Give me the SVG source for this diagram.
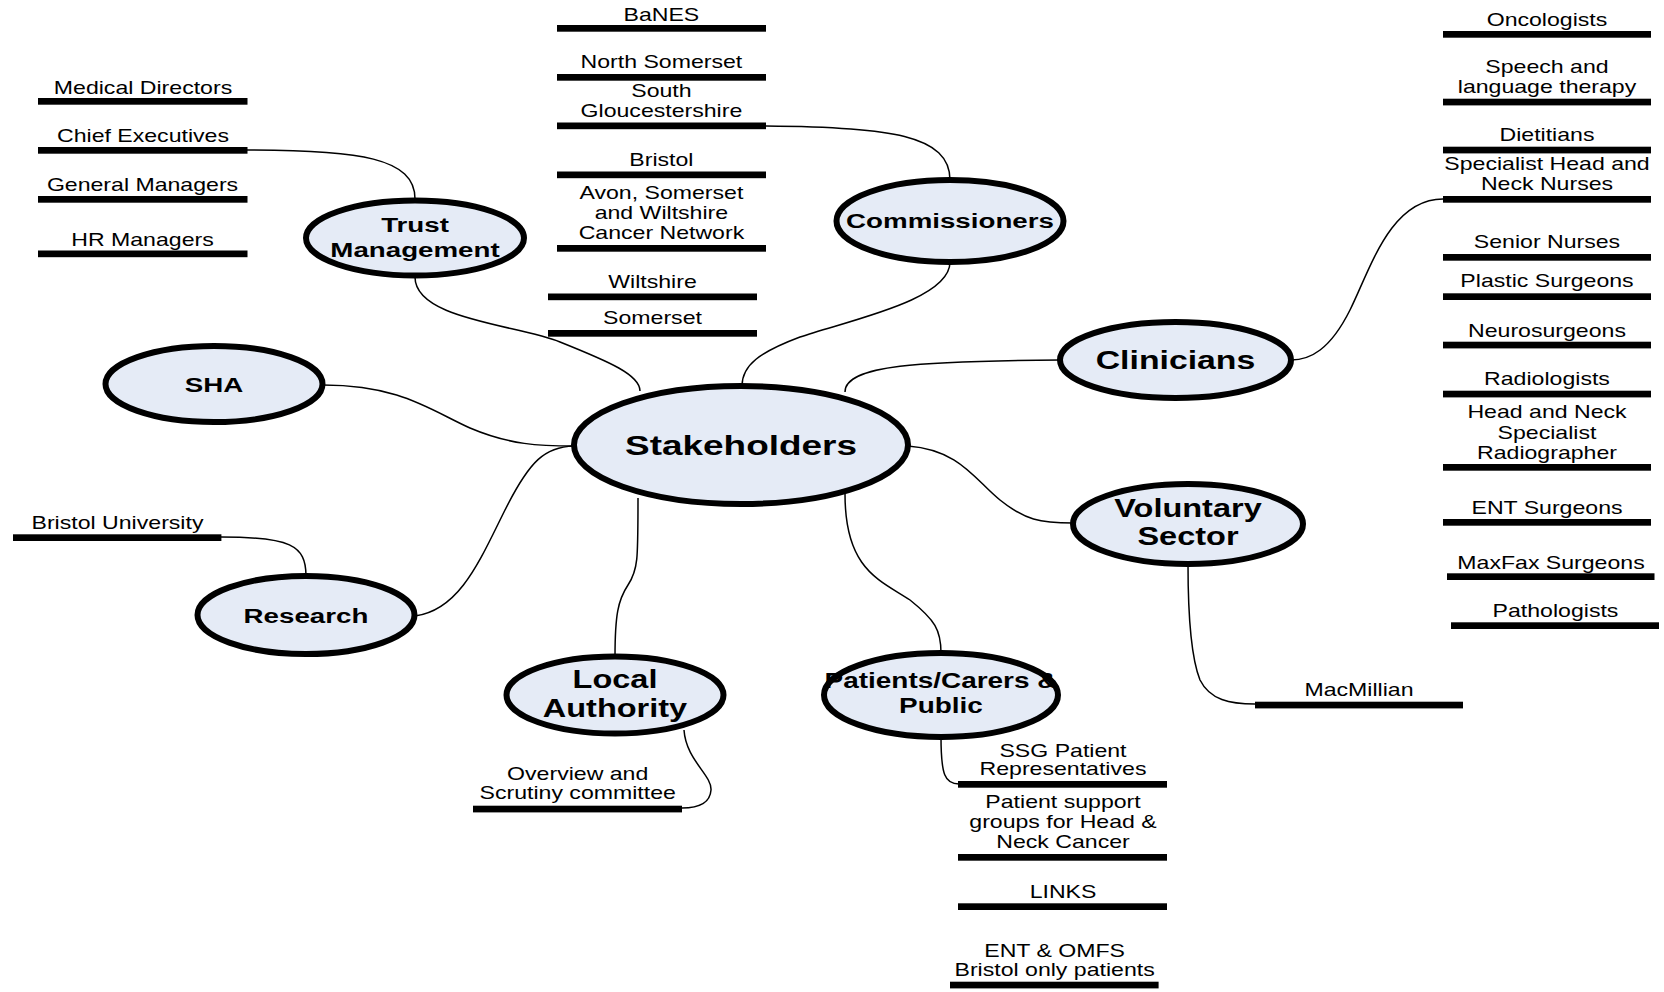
<svg xmlns="http://www.w3.org/2000/svg" width="1664" height="992" viewBox="0 0 1664 992">
<style>
.bg{fill:#ffffff}
.con{fill:none;stroke:#000;stroke-width:1.5}
.fill{fill:#e5ebf6;stroke:none}
.ring{fill:none;stroke:#000;stroke-width:6}
.bar{fill:#000}
.lt{font-family:"Liberation Sans",Arial,sans-serif;font-size:17.5px;fill:#000;text-anchor:middle}
.nt{font-family:"Liberation Sans",Arial,sans-serif;font-weight:bold;fill:#000;text-anchor:middle}
</style>
<rect class="bg" x="0" y="0" width="1664" height="992"/>
<g id="connectors">
<path class="con" d="M247,150 C360,150 415,158 415,199"/>
<path class="con" d="M415,277 C415,320 520,325 560,342 C610,362 640,375 640,391"/>
<path class="con" d="M766,126 C890,127 950,135 950,180"/>
<path class="con" d="M950,262 C950,300 850,320 800,337 C760,352 742,365 742,386"/>
<path class="con" d="M1443,199 C1390,199 1370,270 1350,310 C1330,350 1310,360 1291,360"/>
<path class="con" d="M1060,360 C920,361 845,365 845,392"/>
<path class="con" d="M908,446 C960,450 975,480 1000,500 C1025,520 1040,523 1073,523"/>
<path class="con" d="M1188,564 C1188,620 1192,660 1200,680 C1210,700 1230,704 1255,704"/>
<path class="con" d="M845,494 C845,570 880,580 910,600 C935,620 941,630 941,653"/>
<path class="con" d="M638,498 C638,560 638,570 628,585 C618,600 615,615 615,657"/>
<path class="con" d="M684,730 C686,760 712,775 711,790 C710,805 695,808 682,808"/>
<path class="con" d="M941,737 C941,775 945,784 959,784"/>
<path class="con" d="M221,537 C290,537 306,545 306,576"/>
<path class="con" d="M415,616 C460,610 480,560 505,510 C530,460 545,447 574,446"/>
<path class="con" d="M323,385 C400,385 430,410 470,428 C510,445 540,446 574,446"/>
</g>

<g id="stakeholders">
<ellipse class="fill" cx="741" cy="445" rx="167" ry="59"/>
<text class="nt" font-size="28" transform="translate(741,454.5) scale(1.32,1)">Stakeholders</text>
<ellipse class="ring" cx="741" cy="445" rx="167" ry="59"/>
</g>
<g id="trust-management">
<ellipse class="fill" cx="415" cy="238" rx="109" ry="37.5"/>
<text class="nt" font-size="21" transform="translate(415,232) scale(1.32,1)"><tspan x="0" y="0">Trust</tspan><tspan x="0" y="24.7">Management</tspan></text>
<ellipse class="ring" cx="415" cy="238" rx="109" ry="37.5"/>
</g>
<g id="commissioners">
<ellipse class="fill" cx="950" cy="221" rx="113.5" ry="41"/>
<text class="nt" font-size="21" transform="translate(950,228.3) scale(1.32,1)">Commissioners</text>
<ellipse class="ring" cx="950" cy="221" rx="113.5" ry="41"/>
</g>
<g id="sha">
<ellipse class="fill" cx="214" cy="384" rx="108.5" ry="38"/>
<text class="nt" font-size="21" transform="translate(214,391.7) scale(1.32,1)">SHA</text>
<ellipse class="ring" cx="214" cy="384" rx="108.5" ry="38"/>
</g>
<g id="clinicians">
<ellipse class="fill" cx="1175.5" cy="360" rx="115.5" ry="38"/>
<text class="nt" font-size="26" transform="translate(1175.5,368.5) scale(1.3,1)">Clinicians</text>
<ellipse class="ring" cx="1175.5" cy="360" rx="115.5" ry="38"/>
</g>
<g id="voluntary-sector">
<ellipse class="fill" cx="1188" cy="524" rx="115" ry="40"/>
<text class="nt" font-size="25" transform="translate(1188,516.7) scale(1.3,1)"><tspan x="0" y="0">Voluntary</tspan><tspan x="0" y="28.3">Sector</tspan></text>
<ellipse class="ring" cx="1188" cy="524" rx="115" ry="40"/>
</g>
<g id="research">
<ellipse class="fill" cx="306" cy="615" rx="108.5" ry="39"/>
<text class="nt" font-size="21" transform="translate(306,623.3) scale(1.32,1)">Research</text>
<ellipse class="ring" cx="306" cy="615" rx="108.5" ry="39"/>
</g>
<g id="local-authority">
<ellipse class="fill" cx="615" cy="695" rx="108.5" ry="38.5"/>
<text class="nt" font-size="25" transform="translate(615,688.3) scale(1.3,1)"><tspan x="0" y="0">Local</tspan><tspan x="0" y="28.7">Authority</tspan></text>
<ellipse class="ring" cx="615" cy="695" rx="108.5" ry="38.5"/>
</g>
<g id="patients-carers-public">
<ellipse class="fill" cx="941" cy="695" rx="117" ry="42"/>
<text class="nt" font-size="21.5" transform="translate(941,688.3) scale(1.3,1)"><tspan x="0" y="0">Patients/Carers &amp;</tspan><tspan x="0" y="25">Public</tspan></text>
<ellipse class="ring" cx="941" cy="695" rx="117" ry="42"/>
</g>

<g id="medical-directors"><rect class="bar" x="38" y="98" width="209.5" height="6.7"/><text class="lt" transform="translate(143,93.5) scale(1.32,1)">Medical Directors</text></g>
<g id="chief-executives"><rect class="bar" x="38" y="147" width="209.5" height="6.7"/><text class="lt" transform="translate(143,142) scale(1.32,1)">Chief Executives</text></g>
<g id="general-managers"><rect class="bar" x="38" y="196" width="209.5" height="6.7"/><text class="lt" transform="translate(142.5,191) scale(1.32,1)">General Managers</text></g>
<g id="hr-managers"><rect class="bar" x="38" y="250.5" width="209.5" height="6.7"/><text class="lt" transform="translate(142.5,245.7) scale(1.32,1)">HR Managers</text></g>

<g id="banes"><rect class="bar" x="557" y="25" width="209" height="6.7"/><text class="lt" transform="translate(661.4,20.7) scale(1.32,1)">BaNES</text></g>
<g id="north-somerset"><rect class="bar" x="557" y="74" width="209" height="6.7"/><text class="lt" transform="translate(661.4,68.3) scale(1.32,1)">North Somerset</text></g>
<g id="south-gloucestershire"><rect class="bar" x="557" y="122.5" width="209" height="6.7"/><text class="lt" transform="translate(661.4,97.3) scale(1.32,1)"><tspan x="0" y="0">South</tspan><tspan x="0" y="20">Gloucestershire</tspan></text></g>
<g id="bristol"><rect class="bar" x="557" y="171.5" width="209" height="6.7"/><text class="lt" transform="translate(661.4,166) scale(1.32,1)">Bristol</text></g>
<g id="avon-network"><rect class="bar" x="557" y="245" width="209" height="6.7"/><text class="lt" transform="translate(661.4,199.3) scale(1.32,1)"><tspan x="0" y="0">Avon, Somerset</tspan><tspan x="0" y="20">and Wiltshire</tspan><tspan x="0" y="40">Cancer Network</tspan></text></g>
<g id="wiltshire"><rect class="bar" x="548" y="293.5" width="209" height="6.7"/><text class="lt" transform="translate(652.5,288.3) scale(1.32,1)">Wiltshire</text></g>
<g id="somerset"><rect class="bar" x="548" y="330" width="209" height="6.7"/><text class="lt" transform="translate(652.5,324.3) scale(1.32,1)">Somerset</text></g>

<g id="oncologists"><rect class="bar" x="1443" y="31" width="208" height="6.7"/><text class="lt" transform="translate(1547,25.7) scale(1.32,1)">Oncologists</text></g>
<g id="speech-language"><rect class="bar" x="1443" y="98.7" width="208" height="6.7"/><text class="lt" transform="translate(1547,72.7) scale(1.32,1)"><tspan x="0" y="0">Speech and</tspan><tspan x="0" y="20">language therapy</tspan></text></g>
<g id="dietitians"><rect class="bar" x="1443" y="146.7" width="208" height="6.7"/><text class="lt" transform="translate(1547,141) scale(1.32,1)">Dietitians</text></g>
<g id="specialist-nurses"><rect class="bar" x="1443" y="196" width="208" height="6.7"/><text class="lt" transform="translate(1547,170) scale(1.32,1)"><tspan x="0" y="0">Specialist Head and</tspan><tspan x="0" y="20">Neck Nurses</tspan></text></g>
<g id="senior-nurses"><rect class="bar" x="1443" y="254" width="208" height="6.7"/><text class="lt" transform="translate(1547,248.3) scale(1.32,1)">Senior Nurses</text></g>
<g id="plastic-surgeons"><rect class="bar" x="1443" y="293.3" width="208" height="6.7"/><text class="lt" transform="translate(1547,287.3) scale(1.32,1)">Plastic Surgeons</text></g>
<g id="neurosurgeons"><rect class="bar" x="1443" y="341.7" width="208" height="6.7"/><text class="lt" transform="translate(1547,336.5) scale(1.32,1)">Neurosurgeons</text></g>
<g id="radiologists"><rect class="bar" x="1443" y="390.7" width="208" height="6.7"/><text class="lt" transform="translate(1547,385) scale(1.32,1)">Radiologists</text></g>
<g id="radiographer"><rect class="bar" x="1443" y="464" width="208" height="6.7"/><text class="lt" transform="translate(1547,418.3) scale(1.32,1)"><tspan x="0" y="0">Head and Neck</tspan><tspan x="0" y="20.5">Specialist</tspan><tspan x="0" y="41">Radiographer</tspan></text></g>
<g id="ent-surgeons"><rect class="bar" x="1443" y="519" width="208" height="6.7"/><text class="lt" transform="translate(1547,514) scale(1.32,1)">ENT Surgeons</text></g>
<g id="maxfax-surgeons"><rect class="bar" x="1447" y="573.3" width="207.5" height="6.7"/><text class="lt" transform="translate(1551,569) scale(1.32,1)">MaxFax Surgeons</text></g>
<g id="pathologists"><rect class="bar" x="1451" y="622.3" width="208" height="6.7"/><text class="lt" transform="translate(1555.5,617.3) scale(1.32,1)">Pathologists</text></g>

<g id="bristol-university"><rect class="bar" x="13" y="534.3" width="208.4" height="6.7"/><text class="lt" transform="translate(117.5,529.3) scale(1.32,1)">Bristol University</text></g>
<g id="overview-scrutiny"><rect class="bar" x="473" y="805.7" width="209" height="6.7"/><text class="lt" transform="translate(577.7,780) scale(1.32,1)"><tspan x="0" y="0">Overview and</tspan><tspan x="0" y="19.5">Scrutiny committee</tspan></text></g>
<g id="macmillian"><rect class="bar" x="1255" y="701.7" width="208" height="6.7"/><text class="lt" transform="translate(1359,696) scale(1.32,1)">MacMillian</text></g>
<g id="ssg-patient-reps"><rect class="bar" x="958" y="781" width="209" height="6.7"/><text class="lt" transform="translate(1063,756.7) scale(1.32,1)"><tspan x="0" y="0">SSG Patient</tspan><tspan x="0" y="18.5">Representatives</tspan></text></g>
<g id="patient-support-groups"><rect class="bar" x="958" y="854" width="209" height="6.7"/><text class="lt" transform="translate(1063,808.3) scale(1.32,1)"><tspan x="0" y="0">Patient support</tspan><tspan x="0" y="20">groups for Head &amp;</tspan><tspan x="0" y="40">Neck Cancer</tspan></text></g>
<g id="links"><rect class="bar" x="958" y="903.3" width="209" height="6.7"/><text class="lt" transform="translate(1063,897.7) scale(1.32,1)">LINKS</text></g>
<g id="ent-omfs"><rect class="bar" x="950" y="981.7" width="208.6" height="6.7"/><text class="lt" transform="translate(1054.6,956.7) scale(1.32,1)"><tspan x="0" y="0">ENT &amp; OMFS</tspan><tspan x="0" y="19.3">Bristol only patients</tspan></text></g>
</svg>
